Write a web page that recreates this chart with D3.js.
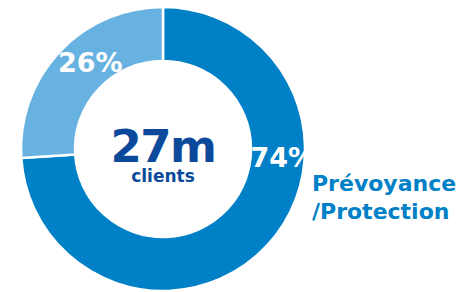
<!DOCTYPE html>
<html>
<head>
<meta charset="utf-8">
<script src="https://cdn.jsdelivr.net/npm/d3@7"></script>
<style>
  body { margin: 0; background: #fff; }
  svg { display: block; font-family: "DejaVu Sans", sans-serif; font-weight: bold; }
</style>
</head>
<body>
<svg id="chart" width="459" height="292"></svg>
<script>
// donut data
const segments = ['Prévoyance/Protection', 'Autres'];
const shares = [74, 26];
const shareLabels = ['74%', '26%'];
const colors = ['#0080c6', '#68b2e1'];
const centerValue = '27m';
const centerUnit = 'clients';
const legendLines = ['Prévoyance', '/Protection'];

const svg = d3.select('#chart');
const cx = 163, cy = 149, outerR = 142, innerR = 88;

const g = svg.append('g')
    .attr('transform', 'translate(' + cx + ',' + cy + ')');

const pie = d3.pie().sort(null).value(d => d);
const arc = d3.arc().innerRadius(innerR).outerRadius(outerR);
const arcs = pie(shares);

// slices
g.selectAll('.slice')
    .data(arcs)
    .enter().append('path')
    .attr('class', 'slice')
    .attr('d', arc)
    .attr('fill', (d, i) => colors[i])
    .attr('stroke', '#fff')
    .attr('stroke-width', 2.5);

// percent labels, placed by hand along the ring (angle in rad, radius)
const labelPos = [{a: 1.64, r: 120}, {a: -0.70, r: 113}];
g.selectAll('.pct')
    .data(arcs)
    .enter().append('text')
    .attr('class', 'pct')
    .attr('x', (d, i) => Math.sin(labelPos[i].a) * labelPos[i].r)
    .attr('y', (d, i) => -Math.cos(labelPos[i].a) * labelPos[i].r)
    .attr('dy', '0.36em')
    .attr('text-anchor', 'middle')
    .attr('fill', '#fff')
    .attr('font-size', 27)
    .text((d, i) => shareLabels[i]);

// center text
g.append('text')
    .attr('y', 13)
    .attr('text-anchor', 'middle')
    .attr('fill', '#0b4a9b')
    .attr('font-size', 45)
    .attr('letter-spacing', -1.5)
    .text(centerValue);

g.append('text')
    .attr('y', 33)
    .attr('text-anchor', 'middle')
    .attr('fill', '#0b4a9b')
    .attr('font-size', 17)
    .text(centerUnit);

// side label
svg.append('g')
    .selectAll('text')
    .data(legendLines)
    .enter().append('text')
    .attr('x', 312)
    .attr('y', (d, i) => 191 + i * 28)
    .attr('fill', '#0080c6')
    .attr('font-size', 22)
    .text(d => d);
</script>
</body>
</html>
